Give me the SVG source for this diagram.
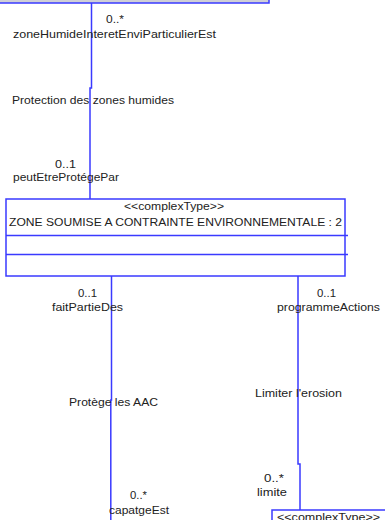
<svg xmlns="http://www.w3.org/2000/svg" width="385" height="520" viewBox="0 0 385 520">
<style>
.t{font-family:"Liberation Sans",Arial,sans-serif;font-size:10.5px;fill:#222}
.c{text-anchor:middle}
.b{fill:#fff;stroke:#3a3aff;stroke-width:1.5}
.l{stroke:#3a3aff;stroke-width:1.5;fill:none}
</style>
<rect width="385" height="520" fill="#fff"/>
<g id="node-top">
<rect x="-5" y="-20" width="274" height="23" fill="#cfcfd6" stroke="#3a3aff" stroke-width="1.5"/>
</g>
<g id="node-zone">
<rect class="b" x="6" y="199" width="339" height="77"/>
<line class="l" x1="6" y1="235.5" x2="348" y2="235.5"/>
<line class="l" x1="6" y1="254.5" x2="348" y2="254.5"/>
<text class="t" x="124" y="210" textLength="100" lengthAdjust="spacingAndGlyphs">&lt;&lt;complexType&gt;&gt;</text>
<text class="t" x="9" y="226" textLength="333" lengthAdjust="spacingAndGlyphs">ZONE SOUMISE A CONTRAINTE ENVIRONNEMENTALE : 2</text>
</g>
<g id="node-bottom">
<rect class="b" x="272" y="510" width="130" height="30"/>
<text class="t" x="277" y="521" textLength="103" lengthAdjust="spacingAndGlyphs">&lt;&lt;complexType&gt;&gt;</text>
</g>
<g id="connectors">
<polyline class="l" points="91.5,3 91.5,88 90,88 90,199"/>
<polyline class="l" points="111.5,276 111.5,400 110.8,400 110.8,520"/>
<polyline class="l" points="298,276 298,464 300,464 300,510"/>
</g>
<g id="labels">
<text class="t" x="106" y="23" textLength="18" lengthAdjust="spacingAndGlyphs">0..*</text>
<text class="t" x="13" y="38" textLength="203" lengthAdjust="spacingAndGlyphs">zoneHumideInteretEnviParticulierEst</text>
<text class="t" x="12" y="104" textLength="162" lengthAdjust="spacingAndGlyphs">Protection des zones humides</text>
<text class="t" x="55" y="168" textLength="21" lengthAdjust="spacingAndGlyphs">0..1</text>
<text class="t" x="13" y="181" textLength="106" lengthAdjust="spacingAndGlyphs">peutEtreProtégePar</text>
<text class="t" x="78" y="297" textLength="19" lengthAdjust="spacingAndGlyphs">0..1</text>
<text class="t" x="52" y="311" textLength="71" lengthAdjust="spacingAndGlyphs">faitPartieDes</text>
<text class="t" x="317" y="297" textLength="19" lengthAdjust="spacingAndGlyphs">0..1</text>
<text class="t" x="277" y="311" textLength="103" lengthAdjust="spacingAndGlyphs">programmeActions</text>
<text class="t" x="69" y="406" textLength="89" lengthAdjust="spacingAndGlyphs">Protège les AAC</text>
<text class="t" x="255" y="397" textLength="87" lengthAdjust="spacingAndGlyphs">Limiter l'erosion</text>
<text class="t" x="264" y="482" textLength="20" lengthAdjust="spacingAndGlyphs">0..*</text>
<text class="t" x="257" y="496" textLength="30" lengthAdjust="spacingAndGlyphs">limite</text>
<text class="t" x="130" y="499" textLength="17" lengthAdjust="spacingAndGlyphs">0..*</text>
<text class="t" x="109" y="514" textLength="60" lengthAdjust="spacingAndGlyphs">capatgeEst</text>
</g>
</svg>
